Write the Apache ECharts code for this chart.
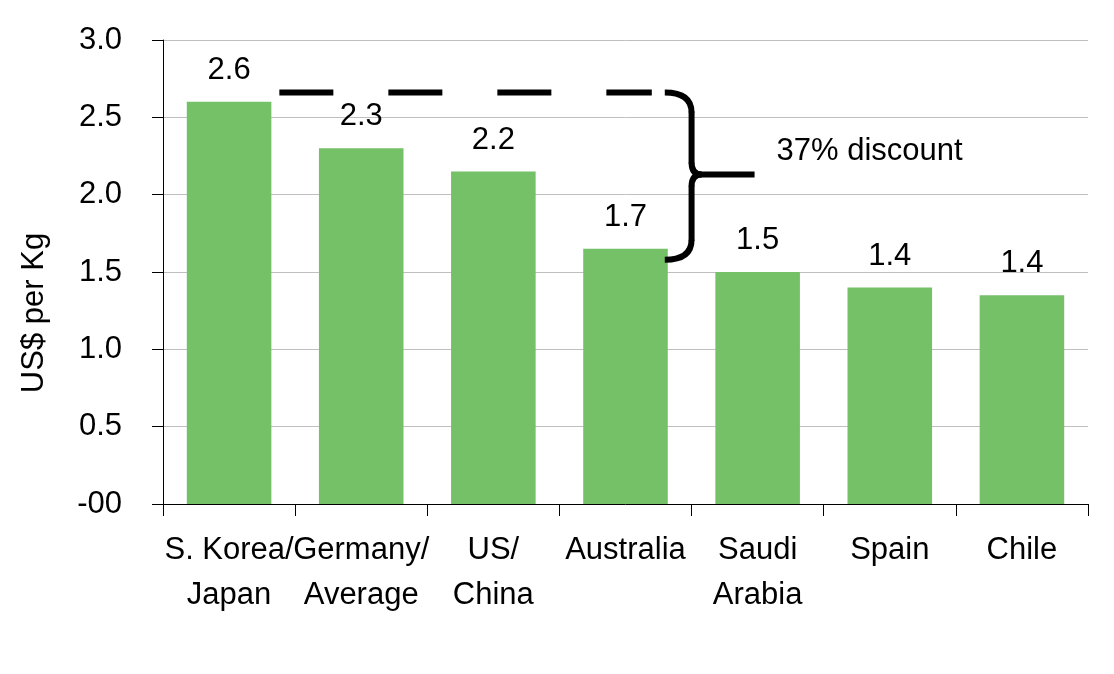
<!DOCTYPE html>
<html>
<head>
<meta charset="utf-8">
<script src="https://cdn.jsdelivr.net/npm/echarts@6/dist/echarts.min.js"></script>
<style>
  html, body { margin: 0; padding: 0; background: #fff; }
  #chart { width: 1114px; height: 674px; }
</style>
</head>
<body>
<div id="chart"></div>
<script>
const categories = ['S. Korea/\nJapan', 'Germany/\nAverage', 'US/\nChina', 'Australia', 'Saudi\nArabia', 'Spain', 'Chile'];
const values = [2.6, 2.3, 2.15, 1.65, 1.5, 1.4, 1.35];
const valueLabels = ['2.6', '2.3', '2.2', '1.7', '1.5', '1.4', '1.4'];
const yAxisTitle = 'US$ per Kg';
const discountText = '37% discount';
const refLevel = 2.66;     // dashed reference line level (value units)
const braceLow = 1.58;     // bottom of brace (value units)
const braceMid = 2.13;     // brace point (value units)

const FONT = '"Liberation Sans", Arial, sans-serif';
const FS = 31;

const chart = echarts.init(document.getElementById('chart'), null, { renderer: 'canvas' });

chart.setOption({
  animation: false,
  backgroundColor: '#ffffff',
  grid: { left: 163, right: 26, top: 40, bottom: 170, containLabel: false },
  xAxis: {
    type: 'category',
    data: categories,
    axisLine: { show: true, lineStyle: { color: '#000', width: 1 } },
    axisTick: { show: true, length: 12, lineStyle: { color: '#000' } },
    axisLabel: {
      interval: 0,
      margin: 24,
      fontFamily: FONT,
      fontSize: FS,
      lineHeight: 45,
      color: '#000'
    },
    splitLine: { show: false }
  },
  yAxis: {
    type: 'value',
    min: 0,
    max: 3,
    interval: 0.5,
    axisLine: { show: true, lineStyle: { color: '#000', width: 1 } },
    axisTick: { show: true, inside: false, length: 11, lineStyle: { color: '#000' } },
    axisLabel: {
      margin: 41,
      fontFamily: FONT,
      fontSize: FS,
      color: '#000',
      formatter: function (v) { return v === 0 ? '-00' : v.toFixed(1); }
    },
    splitLine: { show: true, lineStyle: { color: '#bfbfbf', width: 1 } }
  },
  series: [{
    type: 'bar',
    data: values,
    barCategoryGap: '36%',
    itemStyle: { color: '#75C168' },
    label: {
      show: true,
      position: 'top',
      distance: 16,
      fontFamily: FONT,
      fontSize: FS,
      color: '#000',
      formatter: function (p) { return valueLabels[p.dataIndex]; }
    }
  }]
});

function px(catIdx) { return chart.convertToPixel({ xAxisIndex: 0 }, catIdx); }
function py(v) { return chart.convertToPixel({ yAxisIndex: 0 }, v); }

const catW = px(1) - px(0);
const halfBar = catW * 0.64 / 2;
const yTop = py(refLevel);
const yBot = py(braceLow);
const yMid = py(braceMid);
const bx = (px(3) + px(4)) / 2;
const bl = px(3) + halfBar - 3;
const dashStart = px(0) + halfBar + 8;
const dashEnd = bl - 13;
const armEnd = bx + 63;

const stroke = { stroke: '#000', lineWidth: 6, fill: null };

chart.setOption({
  graphic: [
    { type: 'line', z: 100, shape: { x1: dashStart, y1: yTop, x2: dashEnd, y2: yTop },
      style: { stroke: '#000', lineWidth: 6, lineDash: [54, 55] } },
    // brace: top curl
    { type: 'bezierCurve', z: 100, shape: { x1: bl, y1: yTop, cpx1: bx, cpy1: yTop, x2: bx, y2: yTop + 20 }, style: stroke },
    { type: 'line', z: 100, shape: { x1: bx, y1: yTop + 19, x2: bx, y2: yMid - 11 }, style: stroke },
    { type: 'bezierCurve', z: 100, shape: { x1: bx, y1: yMid - 12, cpx1: bx, cpy1: yMid, x2: bx + 10, y2: yMid }, style: stroke },
    { type: 'bezierCurve', z: 100, shape: { x1: bx + 10, y1: yMid, cpx1: bx, cpy1: yMid, x2: bx, y2: yMid + 12 }, style: stroke },
    { type: 'line', z: 100, shape: { x1: bx, y1: yMid + 11, x2: bx, y2: yBot - 19 }, style: stroke },
    { type: 'bezierCurve', z: 100, shape: { x1: bx, y1: yBot - 20, cpx1: bx, cpy1: yBot, x2: bl, y2: yBot }, style: stroke },
    // arm
    { type: 'line', z: 100, shape: { x1: bx + 8, y1: yMid, x2: armEnd, y2: yMid }, style: stroke },
    {
      type: 'text', z: 100,
      x: bx + 85, y: yMid - 23,
      style: { text: discountText, font: FS + 'px ' + FONT, fill: '#000', textAlign: 'left', textVerticalAlign: 'middle' }
    },
    {
      type: 'text', z: 100,
      x: 34, y: 313,
      rotation: Math.PI / 2,
      style: { text: yAxisTitle, font: FS + 'px ' + FONT, fill: '#000', textAlign: 'center', textVerticalAlign: 'middle' }
    }
  ]
});
</script>
</body>
</html>
